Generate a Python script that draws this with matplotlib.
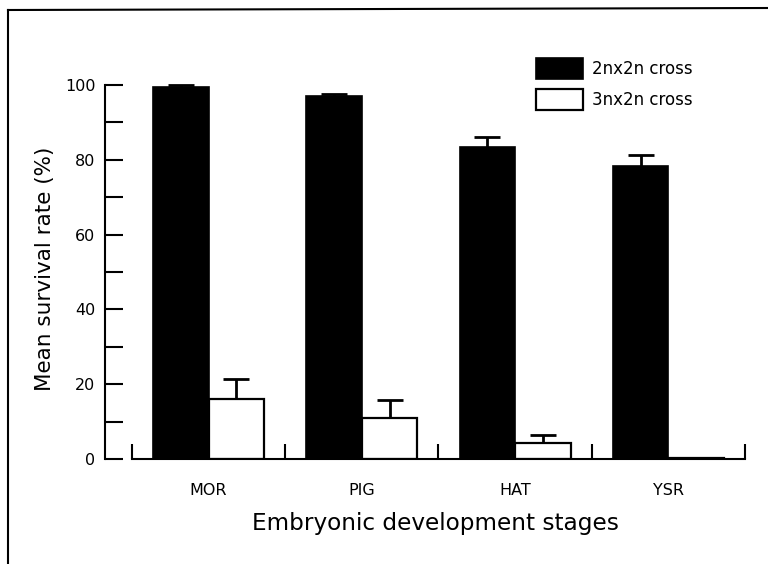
import matplotlib
matplotlib.use("Agg")
import matplotlib.pyplot as plt
from matplotlib.lines import Line2D
import numpy as np

# Survival data per embryonic stage
stages = ["MOR", "PIG", "HAT", "YSR"]
diploid_mean = [99.5, 97.1, 83.4, 78.3]
diploid_err = [0.5, 0.5, 2.7, 3.0]
triploid_mean = [16.0, 11.0, 4.2, 0.3]
triploid_err = [5.4, 4.8, 2.2, 0.0]
series_labels = ["2nx2n cross", "3nx2n cross"]
y_ticks = [0, 20, 40, 60, 80, 100]

plt.rcParams["font.family"] = ["DejaVu Sans"]

fig = plt.figure(figsize=(7.68, 5.64), dpi=100)
ax = fig.add_axes([105 / 768, 105 / 564, 640 / 768, 374 / 564])

x = np.arange(len(stages))
w = 0.362

b1 = ax.bar(x - w / 2, diploid_mean, w, color="black", edgecolor="black",
            linewidth=1.2, label=series_labels[0], zorder=3)
b2 = ax.bar(x + w / 2, triploid_mean, w, color="white", edgecolor="black",
            linewidth=1.6, label=series_labels[1], zorder=3)

# Error bars sit behind the bars so only the upper whisker shows
err_style = dict(fmt="none", ecolor="black", elinewidth=2, capthick=2,
                 capsize=9.5, zorder=2, clip_on=False)
ax.errorbar(x - w / 2, diploid_mean, yerr=diploid_err, **err_style)
ax.errorbar(x + w / 2, triploid_mean, yerr=triploid_err, **err_style)

ax.set_xlim(-0.676, 3.5)
ax.set_ylim(0, 100)

for s in ["top", "right"]:
    ax.spines[s].set_visible(False)
ax.spines["left"].set_bounds(0, 100)
ax.spines["bottom"].set_bounds(-0.5, 3.5)
ax.spines["left"].set_linewidth(1.5)
ax.spines["bottom"].set_linewidth(1.5)
ax.spines["bottom"].set_zorder(4)

# y axis: inward ticks every 10, labels every 20
ax.set_yticks(y_ticks)
ax.set_yticks(np.arange(10, 100, 20), minor=True)
ax.tick_params(axis="y", which="both", direction="in", length=13, width=1.5,
               labelsize=11.5, pad=7)

# x axis: category labels centred, boundary ticks pointing up
ax.set_xticks(x)
ax.set_xticklabels(stages)
ax.set_xticks(np.arange(-0.5, 4.0, 1.0), minor=True)
ax.tick_params(axis="x", which="major", length=0, labelsize=11.5, pad=17)
ax.tick_params(axis="x", which="minor", direction="in", length=11, width=1.5)

ax.set_ylabel("Mean survival rate (%)", fontsize=15.5)
ax.yaxis.set_label_coords(-0.078, 0.508)
ax.set_xlabel("Embryonic development stages", fontsize=16.7)
ax.xaxis.set_label_coords(0.517, -0.142)

ax.legend(handles=[b1, b2], loc="upper left",
          bbox_to_anchor=(536 / 768, 1 - 58 / 564),
          bbox_transform=fig.transFigure, frameon=False,
          fontsize=12, handlelength=2.8, handleheight=1.56,
          handletextpad=0.55, labelspacing=0.63, borderpad=0,
          borderaxespad=0)

# Outer frame lines (top and left)
fig.add_artist(Line2D([8 / 768, 1.0], [1 - 10 / 564, 1 - 8 / 564],
                      transform=fig.transFigure, color="black", lw=1.5))
fig.add_artist(Line2D([8 / 768, 8 / 768], [1 - 10 / 564, 0.0],
                      transform=fig.transFigure, color="black", lw=1.5))

fig.savefig("out.png", dpi=100)
